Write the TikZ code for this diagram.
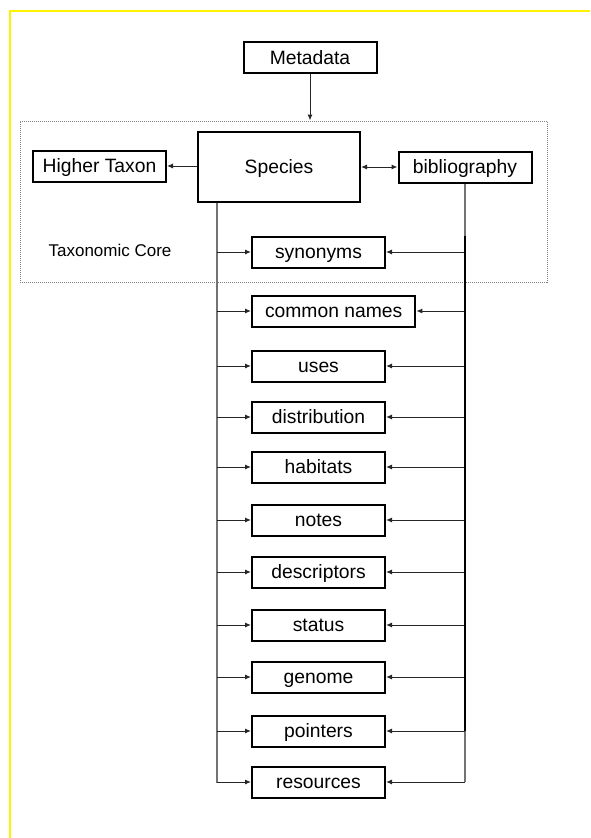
\documentclass[tikz,border=0pt]{standalone}
\usepackage{fontspec}
\setmainfont{Liberation Sans}
\usetikzlibrary{arrows.meta}

\begin{document}
\begin{tikzpicture}[x=1pt, y=-1pt, >={Latex[length=6pt,width=5pt]},
                    every node/.style={font=\fontsize{19.3}{23}\selectfont},
                    box/.style={draw, line width=2pt, minimum width=133pt,
                                minimum height=31pt, inner xsep=8pt, inner ysep=0pt,
                                text height=13.8pt, text depth=0pt},
                    part/.style={box, anchor=west, inner xsep=13pt},
                    link/.style={->, line width=1pt, black!85},
                    trunk/.style={line width=1.2pt, black!55}]

  \useasboundingbox (0,0) rectangle (590,838);

  % Yellow page edge
  \draw [yellow, line width=2pt] (10,838) -- (10,11) -- (590,11);

  % Frame of the taxonomic core
  \node [draw=black!50, dash pattern=on 1pt off 1pt, line width=1pt,
         minimum width=527pt, minimum height=161pt] (core) at (283.5,201.5) {};
  \node [font=\fontsize{17}{20}\selectfont] (core label) at (110,250) {Taxonomic Core};

  % Main boxes
  \node [box] (metadata) at (310,57.5) {Metadata};
  \node [box, minimum width=162pt, minimum height=70pt] (species) at (279,167) {Species};
  \node [box] (higher taxon) at (99.5,166) {Higher Taxon};
  \node [box] (bibliography) at (465,167) {bibliography};

  \draw [link] (metadata) -- (metadata |- core.north);
  \draw [link] (species.west |- higher taxon) -- (higher taxon);
  \draw [link, <->] (species.east |- bibliography) -- (bibliography);

  % Both trunks
  \coordinate (left end) at (217,783);
  \coordinate (right end) at (465,782);
  \draw [trunk] (species.south -| left end) -- (left end);
  \draw [trunk] (bibliography.south) -- (right end);

  % Part boxes fed from both trunks
  \foreach \name/\y in {synonyms/252, common names/311, uses/366, distribution/417,
                        habitats/467, notes/520, descriptors/572, status/625,
                        genome/677, pointers/731, resources/782} {
    \node [part] (\name) at (251,\y) {\name};
    \draw [link] (left end |- \name.west) -- (\name.west);
    \draw [link] (right end |- \name.east) -- (\name.east);
  }

  % Darker middle stretch of the right trunk
  \draw [line width=1.5pt] (right end |- synonyms.north) -- (right end |- pointers);

\end{tikzpicture}
\end{document}
